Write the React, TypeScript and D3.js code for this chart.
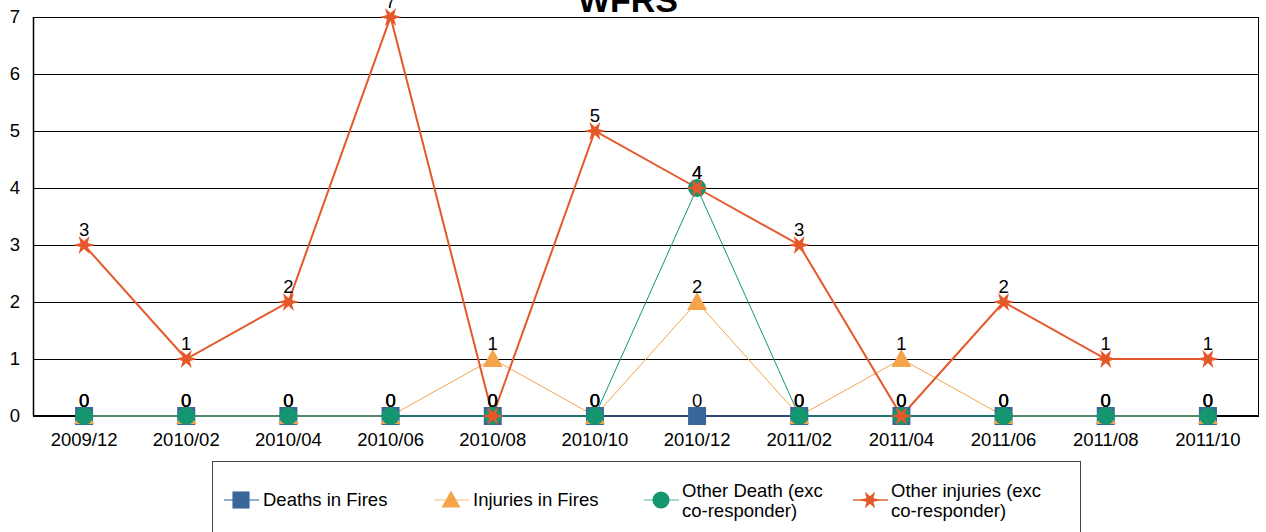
import * as React from "react";
import * as d3 from "d3";

const months = ["2009/12", "2010/02", "2010/04", "2010/06", "2010/08", "2010/10",
  "2010/12", "2011/02", "2011/04", "2011/06", "2011/08", "2011/10"];
const deathsInFires = [0, 0, 0, 0, 0, 0, 0, 0, 0, 0, 0, 0];
const injuriesInFires = [0, 0, 0, 0, 1, 0, 2, 0, 1, 0, 0, 0];
const otherDeath = [0, 0, 0, 0, 0, 0, 4, 0, 0, 0, 0, 0];
const otherInjuries = [3, 1, 2, 7, 0, 5, 4, 3, 0, 2, 1, 1];
const yTicks = [0, 1, 2, 3, 4, 5, 6, 7];

const series = [
  {name: ["Deaths in Fires"], values: deathsInFires, color: "#3a6699", width: 1.5, marker: "square"},
  {name: ["Injuries in Fires"], values: injuriesInFires, color: "#f4a54c", width: 1, marker: "triangle"},
  {name: ["Other Death (exc", "co-responder)"], values: otherDeath, color: "#169670", width: 1, marker: "circle"},
  {name: ["Other injuries (exc", "co-responder)"], values: otherInjuries, color: "#e5582a", width: 2, marker: "star"},
];

const margin = {top: 17, right: 7, bottom: 116, left: 33};
const W = 1266, H = 532;

// six-pointed star like the one used in the sheet
function starPath(r: number) {
  const pts: [number, number][] = [];
  for (let i = 0; i < 12; i++) {
    const a = (i * Math.PI) / 6;
    const rr = i % 2 === 0 ? r : r * 0.38;
    pts.push([Math.cos(a) * rr, Math.sin(a) * rr * 0.95]);
  }
  return d3.line()(pts) + "Z";
}

function marker(kind: string, color: string, x: number, y: number, key: string, s = 1) {
  if (kind === "square") return <rect key={key} x={x - 9 * s} y={y - 9 * s} width={18 * s} height={18 * s} fill={color}/>;
  if (kind === "triangle") return <path key={key} transform={`translate(${x},${y})`} d={`M0,${-10 * s}L${10 * s},${8 * s}L${-10 * s},${8 * s}Z`} fill={color}/>;
  if (kind === "circle") return <circle key={key} cx={x} cy={y} r={9 * s} fill={color}/>;
  return <path key={key} transform={`translate(${x},${y})`} d={starPath(11 * s)} fill={color}/>;
}

export default function App() {
  const width = W - margin.left - margin.right;
  const height = H - margin.top - margin.bottom;

  const x = d3.scaleBand().domain(months).range([0, width]);
  const y = d3.scaleLinear().domain([0, 7]).range([height, 0]);
  const cx = (m: string) => (x(m) as number) + x.bandwidth() / 2;

  const line = d3.line<number>()
    .x((d, i) => cx(months[i]))
    .y(d => y(d));

  const font = "Arial, 'Liberation Sans', sans-serif";
  const fs = 18.5;

  return (
    <svg width={W} height={H} style={{position: "absolute", left: 0, top: 0}} fontFamily={font}>
      <rect width={W} height={H} fill="#fff"/>
      <text x={628} y={12} textAnchor="middle" fontSize={34} fontWeight="bold">WFRS</text>
      <g transform={`translate(${margin.left},${margin.top})`}>
        {yTicks.map(t => (
          <g key={t}>
            <line x1={0} x2={width} y1={y(t) + 0.5} y2={y(t) + 0.5} stroke="#000" strokeWidth={1}/>
            <text x={-13} y={y(t)} dy="0.35em" textAnchor="end" fontSize={fs}>{t}</text>
          </g>
        ))}
        <line x1={0.5} x2={0.5} y1={0} y2={height} stroke="#000" strokeWidth={1.5}/>
        <line x1={width - 0.5} x2={width - 0.5} y1={0} y2={height} stroke="#000" strokeWidth={1}/>
        <line x1={0} x2={width} y1={height} y2={height} stroke="#000" strokeWidth={2}/>
        {months.map(m => (
          <text key={m} x={cx(m)} y={height + 30} textAnchor="middle" fontSize={fs}>{m}</text>
        ))}
        {series.map(s => (
          <path key={s.color} d={line(s.values) as string} fill="none" stroke={s.color} strokeWidth={s.width}/>
        ))}
        {series.map(s => (
          <g key={"m" + s.color}>
            {s.values.map((v, i) => marker(s.marker, s.color, cx(months[i]), y(v), `${s.color}${i}`))}
          </g>
        ))}
        {series.map(s => (
          <g key={"l" + s.color}>
            {s.values.map((v, i) => (
              <text key={i} x={cx(months[i])} y={y(v) - 9} textAnchor="middle" fontSize={fs}>{v}</text>
            ))}
          </g>
        ))}
      </g>
      <g>
        <rect x={212.5} y={461.5} width={868} height={80} fill="none" stroke="#444" strokeWidth={1}/>
        {series.map((s, i) => {
          const lx = [224, 434, 644, 853][i];
          const ly = 500;
          return (
            <g key={"lg" + i}>
              <line x1={lx} x2={lx + 35} y1={ly} y2={ly} stroke={s.color} strokeWidth={s.width} opacity={0.7}/>
              {marker(s.marker, s.color, lx + 17, ly, "lm" + i, 0.95)}
              {s.name.length === 1
                ? <text x={lx + 39} y={ly} dy="0.35em" fontSize={fs}>{s.name[0]}</text>
                : s.name.map((n, k) => (
                  <text key={k} x={lx + 38} y={ly - 9 + k * 20} dy="0.35em" fontSize={fs}>{n}</text>
                ))}
            </g>
          );
        })}
      </g>
    </svg>
  );
}
